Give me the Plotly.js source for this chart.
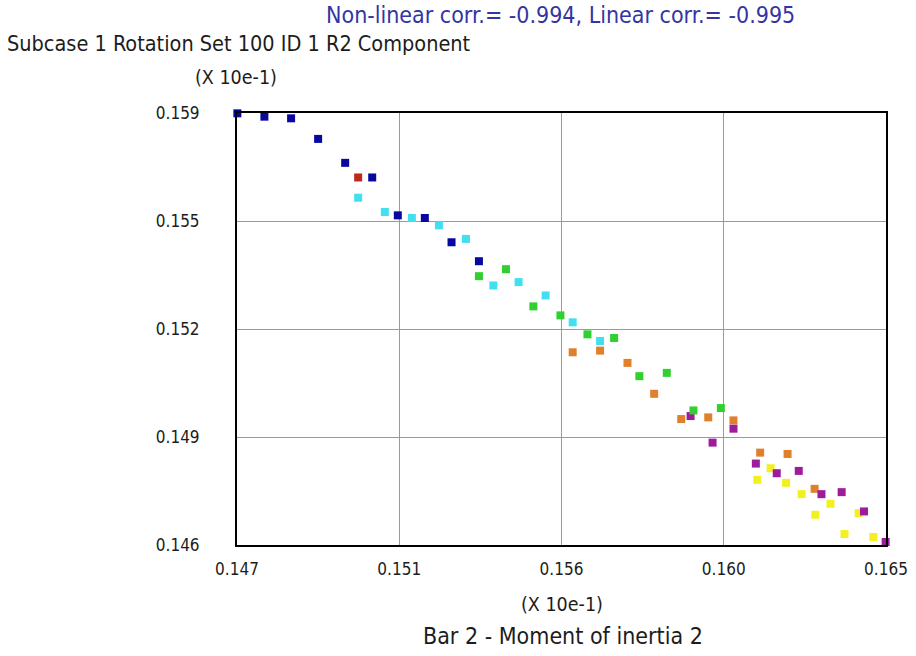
<!DOCTYPE html>
<html><head><meta charset="utf-8">
<script src="https://cdn.plot.ly/plotly-3.0.1.min.js"></script>
<style>html,body{margin:0;padding:0;background:#fff}#c{width:916px;height:656px}</style>
</head><body><div id="c"></div>
<script>
const blueX = [0.14701,0.14776,0.14850,0.14925,0.15000,0.15075,0.15146,0.15221,0.15295,0.15371];
const blueY = [0.15899,0.15889,0.15884,0.15822,0.15750,0.15706,0.15592,0.15584,0.15511,0.15454];
const redX = [0.15036];
const redY = [0.15706];
const cyanX = [0.15036,0.15110,0.15185,0.15260,0.15335,0.15411,0.15481,0.15556,0.15631,0.15707];
const cyanY = [0.15645,0.15602,0.15584,0.15562,0.15521,0.15381,0.15391,0.15351,0.15270,0.15214];
const greenX = [0.15371,0.15446,0.15522,0.15597,0.15672,0.15746,0.15816,0.15892,0.15966,0.16042];
const greenY = [0.15409,0.15430,0.15318,0.15291,0.15234,0.15223,0.15108,0.15118,0.15005,0.15012];
const orangeX = [0.15631,0.15707,0.15783,0.15857,0.15932,0.16007,0.16077,0.16151,0.16227,0.16302];
const orangeY = [0.15180,0.15185,0.15148,0.15055,0.14979,0.14984,0.14975,0.14878,0.14874,0.14769];
const purpleX = [0.15958,0.16019,0.16077,0.16139,0.16197,0.16258,0.16321,0.16377,0.16439,0.16499];
const purpleY = [0.14988,0.14908,0.14950,0.14845,0.14816,0.14823,0.14753,0.14759,0.14701,0.14609];
const yellowX = [0.16143,0.16180,0.16223,0.16266,0.16304,0.16346,0.16385,0.16424,0.16465,0.16506];
const yellowY = [0.14796,0.14831,0.14787,0.14753,0.14691,0.14724,0.14633,0.14696,0.14624,0.14595];

const xTickVals = [0.147,0.1515,0.156,0.1605,0.165];
const xTickText = ["0.147","0.151","0.156","0.160","0.165"];
const yTickVals = [0.146,0.14925,0.1525,0.15575,0.159];
const yTickText = ["0.146","0.149","0.152","0.155","0.159"];

const series = [
  [yellowX, yellowY, '#f2f020'],
  [orangeX, orangeY, '#e0802c'],
  [purpleX, purpleY, '#9c1c9c'],
  [greenX, greenY, '#30d030'],
  [cyanX, cyanY, '#40e0f0'],
  [blueX, blueY, '#0808a0'],
  [redX, redY, '#c02818']
];
const traces = series.map(s => ({
  type:'scatter', mode:'markers', x:s[0], y:s[1], cliponaxis:false,
  marker:{symbol:'square', size:8, color:s[2], line:{width:0}}, hoverinfo:'skip'
}));

const font = "'DejaVu Sans Condensed', 'DejaVu Sans', sans-serif";
const PX0=237, PX1=886, PY0=113, PY1=545;
function px(x){return (x-PX0)/(PX1-PX0);}
function py(y){return (PY1-y)/(PY1-PY0);}

const layout = {
  width:916, height:656,
  margin:{l:PX0, r:916-PX1, t:PY0, b:656-PY1, pad:0},
  paper_bgcolor:'#fff', plot_bgcolor:'#fff', showlegend:false,
  font:{family:font, size:17, color:'#1c1c1c'},
  xaxis:{range:[0.147,0.165], tickvals:xTickVals, ticktext:xTickText, showgrid:true, gridcolor:'#9a9a9a', gridwidth:1,
    zeroline:false, showline:true, linecolor:'#000', linewidth:2, mirror:true, ticks:'', ticklabelstandoff:8,
    tickfont:{family:font, size:17, color:'#1c1c1c'}},
  yaxis:{range:[0.146,0.159], tickvals:yTickVals, ticktext:yTickText, showgrid:true, gridcolor:'#9a9a9a', gridwidth:1,
    zeroline:false, showline:true, linecolor:'#000', linewidth:2, mirror:true, ticks:'', ticklabelstandoff:32,
    tickfont:{family:font, size:17, color:'#1c1c1c'}},
  annotations:[
    {text:'Non-linear corr.= -0.994, Linear corr.= -0.995', xref:'paper', yref:'paper', x:px(560), y:py(15), xanchor:'center', yanchor:'middle', showarrow:false, font:{family:font, size:23, color:'#3434a4'}},
    {text:'Subcase 1 Rotation Set 100 ID 1 R2 Component', xref:'paper', yref:'paper', x:px(5), y:py(44), xanchor:'left', yanchor:'middle', showarrow:false, font:{family:font, size:21.5, color:'#1c1c1c'}},
    {text:'(X 10e-1)', xref:'paper', yref:'paper', x:px(236), y:py(78), xanchor:'center', yanchor:'middle', showarrow:false, font:{family:font, size:19.5, color:'#1c1c1c'}},
    {text:'(X 10e-1)', xref:'paper', yref:'paper', x:px(562), y:py(604), xanchor:'center', yanchor:'middle', showarrow:false, font:{family:font, size:19.5, color:'#1c1c1c'}},
    {text:'Bar 2 - Moment of inertia 2', xref:'paper', yref:'paper', x:px(563), y:py(636), xanchor:'center', yanchor:'middle', showarrow:false, font:{family:font, size:23, color:'#1c1c1c'}}
  ]
};
Plotly.newPlot('c', traces, layout, {staticPlot:true, displayModeBar:false});
</script></body></html>
